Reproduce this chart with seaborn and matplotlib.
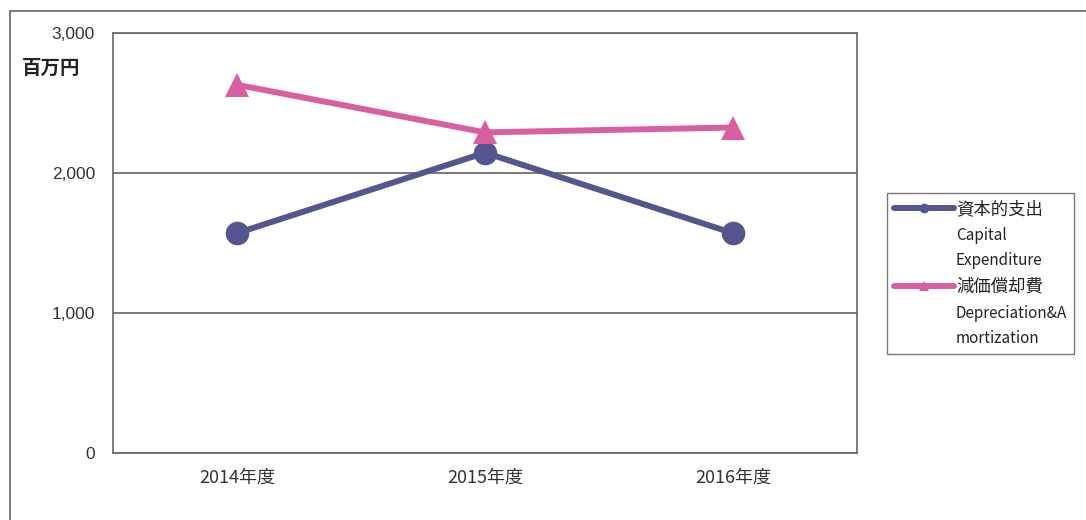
import matplotlib
matplotlib.use("Agg")
import matplotlib.pyplot as plt
import seaborn as sns
import pandas as pd
from matplotlib.patches import Rectangle
from matplotlib.lines import Line2D

years = ["2014年度", "2015年度", "2016年度"]
capex = [1570, 2145, 1570]
depreciation = [2630, 2290, 2325]
series_names = ["資本的支出", "減価償却費"]
series_en = [["Capital", "Expenditure"], ["Depreciation&A", "mortization"]]
yticks = [0, 1000, 2000, 3000]
ytick_labels = ["0", "1,000", "2,000", "3,000"]
unit_label = "百万円"

sns.set_theme(style="white")
plt.rcParams['font.family'] = ['Noto Sans CJK JP', 'DejaVu Sans']

df = pd.DataFrame({
    "year": years * 2,
    "value": capex + depreciation,
    "series": [series_names[0]] * 3 + [series_names[1]] * 3,
})

colors = {series_names[0]: "#55558f", series_names[1]: "#d95fa3"}
markers = {series_names[0]: "o", series_names[1]: "^"}

fig = plt.figure(figsize=(10.86, 5.20), dpi=100)
ax = fig.add_axes([113/1086, 1-453/520, (857-113)/1086, (453-33)/520])

sns.lineplot(data=df, x="year", y="value", hue="series", style="series",
             palette=colors, markers=markers, dashes=False, linewidth=4.3,
             markersize=17, markeredgewidth=0, ax=ax, legend=False, sort=False)

ax.set_xlim(-0.5, 2.5)
ax.set_ylim(0, 3000)
ax.set_yticks(yticks)
ax.set_yticklabels(ytick_labels)
ax.set_xlabel("")
ax.set_ylabel("")
ax.yaxis.grid(True, color="#555555", linewidth=1.1)
ax.xaxis.grid(False)
ax.set_axisbelow(True)
for s in ax.spines.values():
    s.set_visible(True)
    s.set_color("#666666")
    s.set_linewidth(1.2)
ax.tick_params(axis="y", length=0, pad=13, labelsize=12.5, labelcolor="#333333")
ax.tick_params(axis="x", length=0, pad=11, labelsize=13, labelcolor="#333333")
for lab in ax.get_yticklabels():
    lab.set_family(['Liberation Sans'])

# legend: one row per text line, handle on first line of each series
handles, labels = [], []
for n, en in zip(series_names, series_en):
    handles.append(Line2D([], [], color=colors[n], marker=markers[n], linewidth=4.3,
                          markersize=7, markeredgewidth=0))
    labels.append(n)
    for line in en:
        handles.append(Line2D([], [], linestyle="none", marker=None))
        labels.append(line)
leg = fig.legend(handles, labels, loc="upper left",
                 bbox_to_anchor=(887/1086, 1-193/520), frameon=True, fontsize=12.5,
                 handlelength=3.45, handletextpad=0.12, labelspacing=0.5,
                 borderpad=0.4, borderaxespad=0, fancybox=False)
leg.get_frame().set_edgecolor("#555555")
leg.get_frame().set_linewidth(1.0)
for t in leg.get_texts():
    t.set_color("#222222")
    if t.get_text() not in series_names:
        t.set_fontsize(11)

fig.text(22/1086, 1-68/520, unit_label, fontsize=14, color="#222222", va="center",
         ha="left", fontweight="bold")

fig.patches.append(Rectangle((10/1086, -0.1), 1.2, 0.1 + (1-11/520), transform=fig.transFigure,
                             fill=False, edgecolor="#666666", linewidth=1.2))

fig.savefig("out.png", dpi=100)
